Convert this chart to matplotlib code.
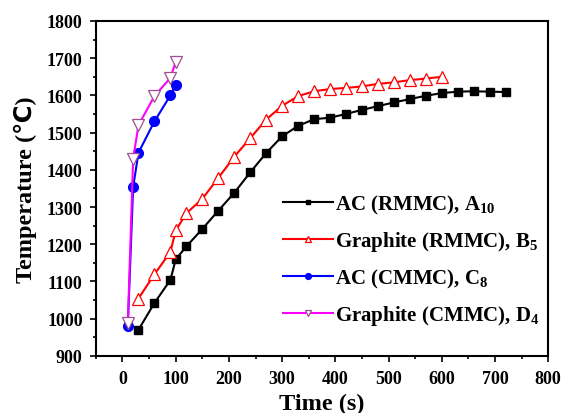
import numpy as np
import matplotlib.pyplot as plt
from matplotlib.ticker import MultipleLocator

plt.rcParams['font.family'] = ['Liberation Serif', 'DejaVu Sans']
plt.rcParams['font.weight'] = 'bold'
plt.rcParams['mathtext.fontset'] = 'custom'
plt.rcParams['mathtext.rm'] = 'Liberation Serif:bold'
plt.rcParams['mathtext.bf'] = 'Liberation Serif:bold'

# AC (RMMC), A10
t_a = [30, 60, 90, 100, 120, 150, 180, 210, 240, 270, 300, 330, 360, 390, 420,
       450, 480, 510, 540, 570, 600, 630, 660, 690, 720]
T_a = [970, 1042, 1104, 1159, 1194, 1241, 1290, 1338, 1393, 1445, 1490, 1518,
       1536, 1540, 1550, 1561, 1571, 1581, 1590, 1599, 1606, 1610, 1611, 1610, 1609]

# Graphite (RMMC), B5
t_b = [30, 60, 90, 100, 120, 150, 180, 210, 240, 270, 300, 330, 360, 390, 420,
       450, 480, 510, 540, 570, 600]
T_b = [1054, 1119, 1179, 1237, 1283, 1322, 1378, 1435, 1485, 1535, 1572, 1598,
       1611, 1617, 1620, 1624, 1631, 1635, 1641, 1645, 1650]

# AC (CMMC), C8
t_c = [10, 20, 30, 60, 90, 100]
T_c = [979, 1353, 1446, 1530, 1600, 1629]

# Graphite (CMMC), D4
t_d = [10, 20, 30, 60, 90, 100]
T_d = [988, 1429, 1520, 1598, 1647, 1690]

fig = plt.figure(figsize=(5.64, 4.14), dpi=100)
ax = fig.add_axes([0.170, 0.138, 0.802, 0.809])

ax.plot(t_a, T_a, color='black', lw=1.5, marker='s', ms=6,
        label=r'AC (RMMC), A$_{10}$')
ax.plot(t_b, T_b, color='red', lw=1.5, marker='^', ms=8, mfc='white',
        mec='red', mew=0.9, label=r'Graphite (RMMC), B$_{5}$')
ax.plot(t_c, T_c, color='blue', lw=1.5, marker='o', ms=7,
        label=r'AC (CMMC), C$_{8}$')
ax.plot(t_d, T_d, color='magenta', lw=1.5, marker='v', ms=8, mfc='white',
        mec='#a04c90', mew=0.9, label=r'Graphite (CMMC), D$_{4}$')

ax.set_xlim(-50, 800)
ax.set_ylim(900, 1800)
ax.xaxis.set_major_locator(MultipleLocator(100))
ax.xaxis.set_minor_locator(MultipleLocator(50))
ax.yaxis.set_major_locator(MultipleLocator(100))
ax.yaxis.set_minor_locator(MultipleLocator(50))
ax.tick_params(which='both', direction='out', top=False, right=False,
               labelsize=13, width=1.2)
ax.tick_params(which='major', length=4.5)
ax.tick_params(which='minor', length=2.5)
ax.tick_params(axis='x', pad=6)
ax.tick_params(axis='y', pad=5)
for s in ax.spines.values():
    s.set_linewidth(1.5)

ax.set_xlabel('Time (s)', fontsize=17.5, fontweight='bold', labelpad=4)
ax.set_ylabel('Temperature (\u2103)', fontsize=17.5, fontweight='bold', labelpad=7)

ax.legend(loc='lower right', bbox_to_anchor=(1.0, 0.06), frameon=False,
          fontsize=15, markerscale=0.6, handlelength=2.4, handletextpad=0.1,
          labelspacing=0.65, borderaxespad=0.0)

fig.savefig('out.png', dpi=100)
